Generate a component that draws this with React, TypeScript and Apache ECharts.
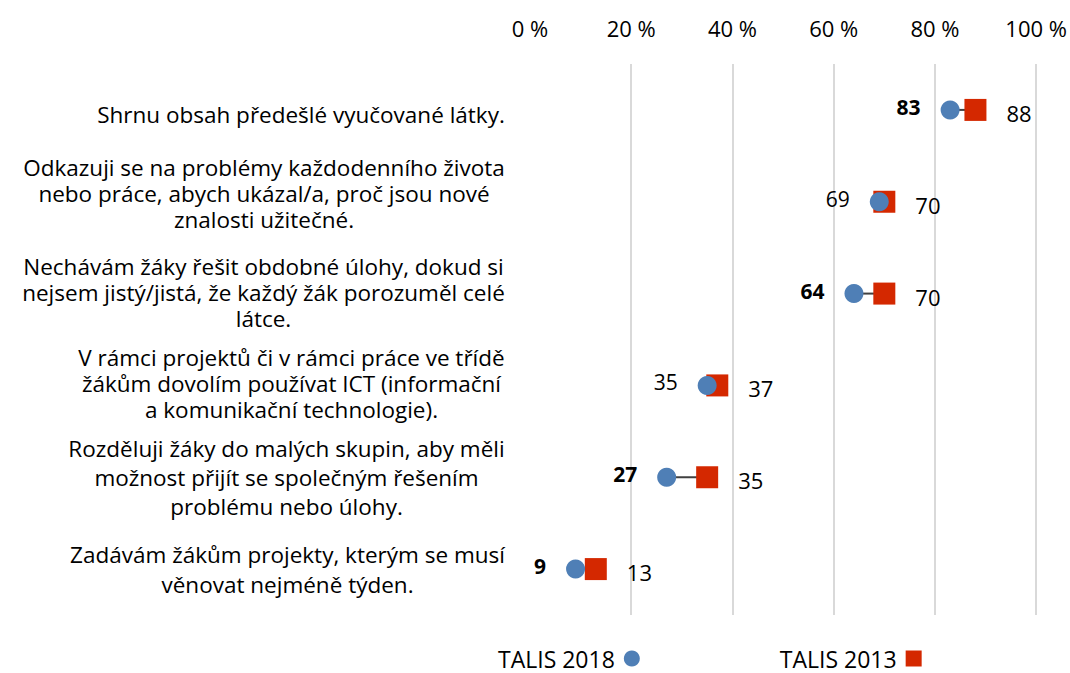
import React, { useEffect, useRef } from "react";
import * as echarts from "echarts";

const categories = [
  "Shrnu obsah předešlé vyučované látky.",
  "Odkazuji se na problémy každodenního života\nnebo práce, abych ukázal/a, proč jsou nové\nznalosti užitečné.",
  "Nechávám žáky řešit obdobné úlohy, dokud si\nnejsem jistý/jistá, že každý žák porozuměl celé\nlátce.",
  "V rámci projektů či v rámci práce ve třídě\nžákům dovolím používat ICT (informační\na komunikační technologie).",
  "Rozděluji žáky do malých skupin, aby měli\nmožnost přijít se společným řešením\nproblému nebo úlohy.",
  "Zadávám žákům projekty, kterým se musí\nvěnovat nejméně týden.",
];
const talis2018 = [83, 69, 64, 35, 27, 9];
const talis2013 = [88, 70, 70, 37, 35, 13];
const significant2018 = [true, false, true, false, true, true];
const seriesNames = ["TALIS 2018", "TALIS 2013"];

const FONT = "Open Sans";
const CAT_SIZE = 22.5;
const lineHeights = [26, 26, 26, 26, 29, 30];
// extra blank space above / below each label block (vertical nudge)
const spaceTop = [10, 0, 0, 0, 0, 0];
const spaceBottom = [0, 16, 3, 4, 0, 0];
const BLUE = "#4f7fb6";
const RED = "#d42800";

function measure(text: string, size: number) {
  const ctx = document.createElement("canvas").getContext("2d")!;
  ctx.font = `normal ${size}px "${FONT}"`;
  return ctx.measureText(text).width;
}

export default function App() {
  const ref = useRef<HTMLDivElement>(null);
  useEffect(() => {
    const chart = echarts.init(ref.current!, undefined, { renderer: "svg" });
    const rich: any = {};
    categories.forEach((c, i) => {
      const lines = c.split("\n");
      const w = Math.ceil(Math.max(...lines.map((l) => measure(l, CAT_SIZE)))) + 2;
      rich["c" + i] = {
        width: w,
        align: "center",
        fontSize: CAT_SIZE,
        fontFamily: FONT,
        color: "#000",
        lineHeight: lineHeights[i],
      };
      rich["t" + i] = { fontSize: 1, lineHeight: spaceTop[i] };
      rich["b" + i] = { fontSize: 1, lineHeight: spaceBottom[i] };
    });
    chart.setOption({
      animation: false,
      textStyle: { fontFamily: FONT },
      grid: { left: 530, right: 33, top: 64, bottom: 58 },
      xAxis: {
        type: "value",
        position: "top",
        min: 0,
        max: 100,
        interval: 20,
        axisLine: { show: false },
        axisTick: { show: false },
        axisLabel: {
          formatter: "{value} %",
          fontSize: 22,
          color: "#000",
          margin: 25,
          fontFamily: FONT,
        },
        splitLine: {
          show: true,
          showMinLine: false,
          lineStyle: { color: "#d9d9d9", width: 2 },
        },
      },
      yAxis: {
        type: "category",
        inverse: true,
        data: categories,
        axisLine: { show: false },
        axisTick: { show: false },
        splitLine: { show: false },
        axisLabel: {
          margin: 24,
          align: "right",
          formatter: (value: string, index: number) => {
            const parts = value.split("\n").map((l) => `{c${index}|${l}}`);
            if (spaceTop[index] > 0) parts.unshift(`{t${index}| }`);
            if (spaceBottom[index] > 0) parts.push(`{b${index}| }`);
            return parts.join("\n");
          },
          rich,
        },
      },
      legend: {
        data: [
          { name: seriesNames[0], icon: "circle" },
          { name: seriesNames[1], icon: "rect" },
        ],
        left: 493,
        top: 642,
        align: "right",
        itemGap: 140,
        itemWidth: 16,
        itemHeight: 16,
        textStyle: {
          fontSize: 23,
          lineHeight: 20,
          color: "#000",
          fontFamily: FONT,
          padding: [0, 4, 0, 0],
        },
      },
      series: [
        {
          type: "custom",
          silent: true,
          z: 1,
          encode: { x: [0, 1], y: 2 },
          data: categories.map((_, i) => [talis2018[i], talis2013[i], i]),
          renderItem: (params: any, api: any) => {
            const a = api.coord([api.value(0), api.value(2)]);
            const b = api.coord([api.value(1), api.value(2)]);
            return {
              type: "line",
              shape: { x1: a[0], y1: a[1], x2: b[0], y2: b[1] },
              style: { stroke: "#404040", lineWidth: 2 },
            };
          },
        },
        {
          name: seriesNames[1],
          type: "scatter",
          z: 2,
          symbol: "rect",
          symbolSize: 22,
          itemStyle: { color: RED, opacity: 1 },
          data: talis2013.map((v, i) => [v, i]),
          label: {
            show: true,
            position: "right",
            distance: 20,
            offset: [0, 3],
            fontSize: 22,
            color: "#000",
            fontFamily: FONT,
            formatter: (p: any) => String(p.value[0]),
          },
        },
        {
          name: seriesNames[0],
          type: "scatter",
          z: 3,
          symbol: "circle",
          symbolSize: 19,
          itemStyle: { color: BLUE, opacity: 1 },
          data: talis2018.map((v, i) => ({
            value: [v, i],
            label: { fontWeight: significant2018[i] ? "bold" : "normal" },
          })),
          label: {
            show: true,
            position: "left",
            distance: 20,
            offset: [0, -3],
            fontSize: 21,
            color: "#000",
            fontFamily: FONT,
            formatter: (p: any) => String(p.value[0]),
          },
        },
      ],
    });
    return () => chart.dispose();
  }, []);
  return (
    <div
      ref={ref}
      style={{ position: "fixed", left: 0, top: 0, width: 1070, height: 673, background: "#fff" }}
    />
  );
}
